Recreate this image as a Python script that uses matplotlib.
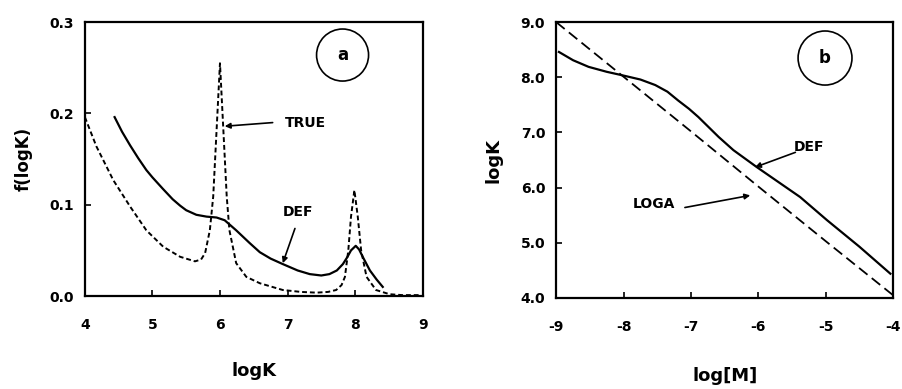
import matplotlib
matplotlib.use("Agg")
import matplotlib.pyplot as plt
from matplotlib.patches import Ellipse

# ---- Panel a data ----
true_x = [4.0, 4.17, 4.42, 4.67, 4.91, 5.16, 5.41, 5.63, 5.72, 5.78, 5.85, 5.90, 5.95, 6.0, 6.05, 6.10, 6.14, 6.24, 6.39, 6.59, 6.93, 7.2, 7.43, 7.6, 7.72, 7.80, 7.85, 7.90, 7.94, 7.99, 8.04, 8.09, 8.17, 8.31, 8.51, 8.7, 8.95]
true_y = [0.196, 0.164, 0.127, 0.098, 0.072, 0.054, 0.043, 0.038, 0.040, 0.047, 0.072, 0.109, 0.182, 0.255, 0.182, 0.109, 0.072, 0.036, 0.021, 0.014, 0.0066, 0.0045, 0.0037, 0.0045, 0.0066, 0.012, 0.021, 0.050, 0.087, 0.116, 0.087, 0.050, 0.021, 0.0066, 0.002, 0.001, 0.001]

def_x = [4.44, 4.55, 4.67, 4.79, 4.91, 5.0, 5.16, 5.3, 5.41, 5.5, 5.65, 5.8, 5.95, 6.07, 6.24, 6.44, 6.59, 6.75, 6.93, 7.15, 7.33, 7.5, 7.62, 7.73, 7.82, 7.88, 7.94, 8.01, 8.06, 8.12, 8.22, 8.32, 8.41]
def_y = [0.196, 0.180, 0.165, 0.151, 0.138, 0.130, 0.117, 0.106, 0.099, 0.094, 0.089, 0.087, 0.086, 0.083, 0.072, 0.058, 0.048, 0.041, 0.035, 0.028, 0.024, 0.0225, 0.024, 0.028, 0.035, 0.042, 0.050, 0.055, 0.051, 0.042, 0.028, 0.018, 0.010]

a_xticks = [4, 5, 6, 7, 8, 9]
a_yticks = [0.0, 0.1, 0.2, 0.3]

# ---- Panel b data ----
loga_x = [-9, -8, -7, -6, -5, -4]
loga_y = [9.0, 8.01, 7.02, 6.02, 5.03, 4.05]

defb_x = [-8.96, -8.75, -8.52, -8.25, -8.03, -7.75, -7.53, -7.35, -7.19, -7.03, -6.89, -6.59, -6.37, -6.02, -5.70, -5.38, -4.98, -4.5, -4.04]
defb_y = [8.46, 8.31, 8.19, 8.10, 8.04, 7.96, 7.86, 7.74, 7.58, 7.43, 7.28, 6.92, 6.68, 6.37, 6.10, 5.83, 5.41, 4.93, 4.44]

b_xticks = [-9, -8, -7, -6, -5, -4]
b_yticks = [4.0, 5.0, 6.0, 7.0, 8.0, 9.0]

plt.rcParams['font.family'] = ['DejaVu Sans']
plt.rcParams['font.weight'] = 'bold'

fig = plt.figure(figsize=(9.03, 3.89), dpi=100)
axa = fig.add_axes([0.094, 0.239, 0.374, 0.704])
axb = fig.add_axes([0.616, 0.234, 0.373, 0.709])

for ax in (axa, axb):
    for s in ax.spines.values():
        s.set_linewidth(1.6)
    ax.tick_params(direction='in', length=4, width=1.2, labelsize=10)

arrow_kw = dict(arrowstyle='-|>', color='black', lw=1.2, mutation_scale=8,
                shrinkA=0, shrinkB=0)

# Panel a
axa.plot(true_x, true_y, color='black', lw=1.4, ls=(0, (2.5, 1.5)))
axa.plot(def_x, def_y, color='black', lw=1.6, ls='-')
axa.set_xlim(4, 9)
axa.set_ylim(0, 0.3)
axa.set_xticks(a_xticks)
axa.set_xticklabels([str(t) for t in a_xticks], fontweight='bold')
axa.set_yticks(a_yticks)
axa.set_yticklabels(['%.1f' % t for t in a_yticks], fontweight='bold')
axa.tick_params(axis='x', pad=16)
axa.tick_params(axis='y', pad=8)
axa.set_xlabel('logK', fontsize=13, fontweight='bold')
axa.set_ylabel('f(logK)', fontsize=12, fontweight='bold')
axa.xaxis.set_label_coords(0.5, -0.24)
axa.yaxis.set_label_coords(-0.154, 0.5)
axa.add_patch(Ellipse((0.763, 0.88), 0.154, 0.19, transform=axa.transAxes,
                      fill=False, lw=1.2, color='black'))
axa.text(0.763, 0.88, 'a', transform=axa.transAxes, ha='center', va='center',
         fontsize=12, fontweight='bold')
axa.text(6.96, 0.19, 'TRUE', fontsize=10, fontweight='bold', va='center', ha='left')
axa.annotate('', xy=(6.07, 0.186), xytext=(6.78, 0.19), arrowprops=arrow_kw)
axa.text(6.93, 0.092, 'DEF', fontsize=10, fontweight='bold', va='center', ha='left')
axa.annotate('', xy=(6.93, 0.036), xytext=(7.11, 0.074), arrowprops=arrow_kw)

# Panel b
axb.plot(loga_x, loga_y, color='black', lw=1.3, ls=(0, (6, 3)))
axb.plot(defb_x, defb_y, color='black', lw=1.6, ls='-')
axb.set_xlim(-9, -4)
axb.set_ylim(4.0, 9.0)
axb.set_xticks(b_xticks)
axb.set_xticklabels([str(t) for t in b_xticks], fontweight='bold')
axb.set_yticks(b_yticks)
axb.set_yticklabels(['%.1f' % t for t in b_yticks], fontweight='bold')
axb.tick_params(axis='x', pad=16)
axb.tick_params(axis='y', pad=8)
axb.set_xlabel('log[M]', fontsize=13, fontweight='bold')
axb.set_ylabel('logK', fontsize=13, fontweight='bold')
axb.xaxis.set_label_coords(0.5, -0.25)
axb.yaxis.set_label_coords(-0.16, 0.5)
axb.add_patch(Ellipse((0.798, 0.87), 0.16, 0.196, transform=axb.transAxes,
                      fill=False, lw=1.2, color='black'))
axb.text(0.798, 0.87, 'b', transform=axb.transAxes, ha='center', va='center',
         fontsize=12, fontweight='bold')
axb.text(-5.48, 6.73, 'DEF', fontsize=10, fontweight='bold', va='center', ha='left')
axb.annotate('', xy=(-6.05, 6.37), xytext=(-5.45, 6.64), arrowprops=arrow_kw)
axb.text(-7.86, 5.70, 'LOGA', fontsize=10, fontweight='bold', va='center', ha='left')
axb.annotate('', xy=(-6.12, 5.86), xytext=(-7.09, 5.64), arrowprops=arrow_kw)

fig.savefig('out.png', dpi=100)
